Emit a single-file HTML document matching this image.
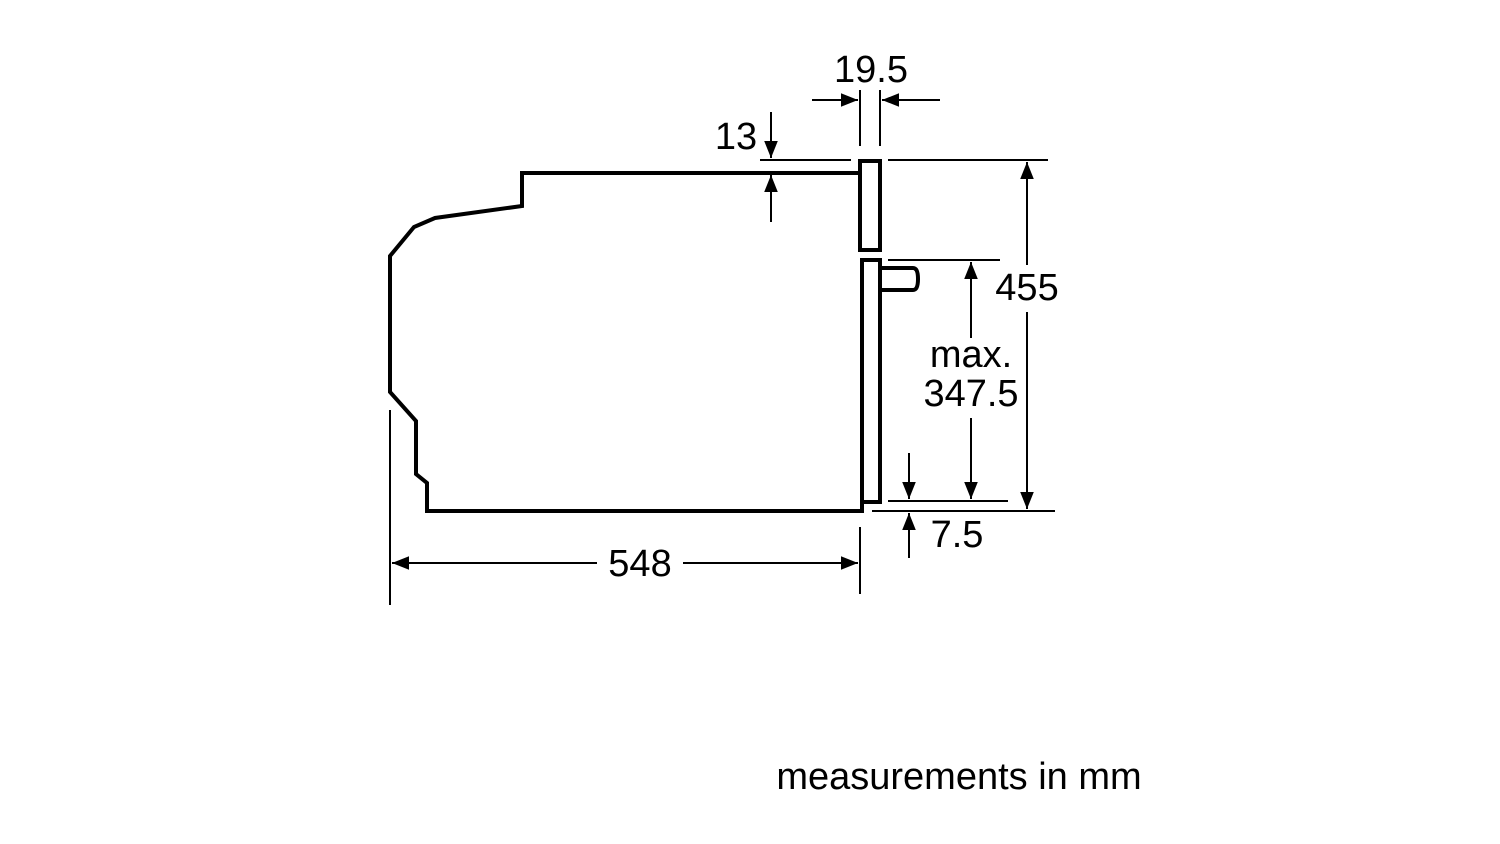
<!DOCTYPE html>
<html><head><style>
html,body{margin:0;padding:0;background:#fff;}
svg{display:block;}
text{font-family:"Liberation Sans",Arial,sans-serif;fill:#000;}
</style></head><body>
<svg width="1500" height="844" viewBox="0 0 1500 844" xmlns="http://www.w3.org/2000/svg">
<defs>
<marker id="a" viewBox="0 0 10 10" refX="10" refY="5" markerWidth="17" markerHeight="17" markerUnits="userSpaceOnUse" orient="auto"><path d="M0,1 L10,5 L0,9 z" fill="#000"/></marker>
</defs>
<g fill="none" stroke="#000" stroke-width="4" stroke-linejoin="miter">
<polyline points="860,173 522,173 522,206 435,218 414,227 390,256 390,392 416,421 416,474 427,483 427,511 862,511 862,502 880,502 880,260 862,260 862,502"/>
<polyline points="862,250 860,250 860,161 880,161 880,250 860,250"/>
<path d="M880,268 H913 Q918,268 918,279 Q918,290 913,290 H880"/>
</g>
<g stroke="#000" stroke-width="2" fill="none">
<line x1="860" y1="90" x2="860" y2="146"/>
<line x1="880" y1="90" x2="880" y2="146"/>
<line x1="812" y1="100" x2="858" y2="100" marker-end="url(#a)"/>
<line x1="940" y1="100" x2="882" y2="100" marker-end="url(#a)"/>
<line x1="760" y1="160" x2="851" y2="160"/>
<line x1="771" y1="112" x2="771" y2="158" marker-end="url(#a)"/>
<line x1="771" y1="222" x2="771" y2="175" marker-end="url(#a)"/>
<line x1="888" y1="160" x2="1048" y2="160"/>
<line x1="872" y1="511" x2="1055" y2="511"/>
<line x1="1027" y1="265" x2="1027" y2="162" marker-end="url(#a)"/>
<line x1="1027" y1="312" x2="1027" y2="509" marker-end="url(#a)"/>
<line x1="888" y1="260" x2="1000" y2="260"/>
<line x1="888" y1="501" x2="1008" y2="501"/>
<line x1="971" y1="338" x2="971" y2="262" marker-end="url(#a)"/>
<line x1="971" y1="418" x2="971" y2="499" marker-end="url(#a)"/>
<line x1="909" y1="453" x2="909" y2="499" marker-end="url(#a)"/>
<line x1="909" y1="558" x2="909" y2="513" marker-end="url(#a)"/>
<line x1="390" y1="410" x2="390" y2="605"/>
<line x1="860" y1="527" x2="860" y2="594"/>
<line x1="597" y1="563" x2="392" y2="563" marker-end="url(#a)"/>
<line x1="683" y1="563" x2="858" y2="563" marker-end="url(#a)"/>
</g>
<g font-size="38" text-anchor="middle">
<text x="871" y="82">19.5</text>
<text x="736" y="149">13</text>
<text x="1027" y="300">455</text>
<text x="971" y="367">max.</text>
<text x="971" y="406">347.5</text>
<text x="957" y="547">7.5</text>
<text x="640" y="576">548</text>
<text x="959" y="789">measurements in mm</text>
</g>
</svg>
</body></html>
